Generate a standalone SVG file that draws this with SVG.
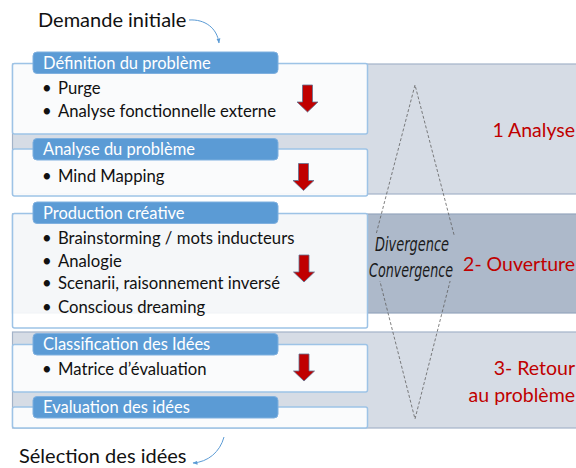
<svg xmlns="http://www.w3.org/2000/svg" width="576" height="468" viewBox="0 0 576 468">
  <style>
    .band1 { fill: #d6dce5; stroke: #a3b3c8; stroke-width: 1.2; }
    .band2 { fill: #adb9ca; stroke: #95a6bd; stroke-width: 1.2; }
    .box { fill: #ffffff; fill-opacity: 0.88; stroke: #9dc3e6; stroke-width: 1.5; }
    .hdr { fill: #5b9bd5; stroke: #7fb0df; stroke-width: 1; }
    .hdrt { font-family: Lato, "Liberation Sans", sans-serif; font-size: 16.5px; fill: #ffffff; }
    .txt { font-family: Lato, "Liberation Sans", sans-serif; font-size: 16.7px; fill: #111111; }
    .big { font-family: Lato, "Liberation Sans", sans-serif; font-size: 20px; fill: #111111; }
    .red { font-family: Lato, "Liberation Sans", sans-serif; font-size: 19.5px; fill: #c00000; text-anchor: end; }
    .dv { font-family: "DejaVu Sans Condensed", "DejaVu Sans", sans-serif; font-stretch: condensed; font-style: italic; font-size: 15px; fill: #1a1a1a; text-anchor: middle; }
    .conn { fill: none; stroke: #5b9bd5; stroke-width: 1; }
    .diamond { fill: none; stroke: #606060; stroke-width: 0.8; stroke-dasharray: 3 2; }
    .rarrow { fill: #c00000; stroke: #5f7393; stroke-width: 0.8; }
  </style>
  <defs>
    <marker id="ah" viewBox="0 0 10 10" refX="9" refY="5" markerWidth="5" markerHeight="5" orient="auto">
      <path d="M0,1 L10,5 L0,9 Z" fill="#5b9bd5"/>
    </marker>
    <path id="redArrow" d="M-5,0 H5 V17 H10.5 L0,27 L-10.5,17 H-5 Z"/>
  </defs>

  <g id="bands">
    <rect class="band1" x="12.5" y="64" width="580" height="130"/>
    <rect class="band2" x="12.5" y="214" width="580" height="99"/>
    <rect class="band1" x="12.5" y="332" width="580" height="96"/>
  </g>

  <g id="diagonal-diamond">
    <polygon class="diamond" points="415,85 372,250 415,419 458,250"/>
    <rect x="366" y="235" width="96" height="46" fill="#adb9ca"/>
    <g transform="translate(412,251) scale(1,1.25)">
      <text class="dv" x="0" y="0" textLength="74" lengthAdjust="spacingAndGlyphs">Divergence</text>
    </g>
    <g transform="translate(411,277) scale(1,1.25)">
      <text class="dv" x="0" y="0" textLength="84" lengthAdjust="spacingAndGlyphs">Convergence</text>
    </g>
  </g>

  <g id="phase-labels">
    <text class="red" x="575" y="137">1 Analyse</text>
    <text class="red" x="575" y="271">2- Ouverture</text>
    <text class="red" x="575" y="375">3- Retour</text>
    <text class="red" x="575" y="402">au problème</text>
  </g>

  <g id="node-definition">
    <rect class="box" x="12.5" y="63.5" width="355" height="70.5" rx="2"/>
    <rect class="hdr" x="33" y="52" width="245" height="21.5" rx="4"/>
    <text class="hdrt" x="43" y="69">Définition du problème</text>
    <text class="txt" x="42" y="94">•</text>
    <text class="txt" x="58" y="94">Purge</text>
    <text class="txt" x="42" y="117">•</text>
    <text class="txt" x="58" y="117">Analyse fonctionnelle externe</text>
  </g>

  <g id="node-analyse">
    <rect class="box" x="12.5" y="149" width="355" height="47" rx="2"/>
    <rect class="hdr" x="33" y="138.5" width="245" height="21.5" rx="4"/>
    <text class="hdrt" x="43" y="155">Analyse du problème</text>
    <text class="txt" x="42" y="181.5">•</text>
    <text class="txt" x="58" y="181.5">Mind Mapping</text>
  </g>

  <g id="node-production">
    <rect class="box" x="12.5" y="213.5" width="355" height="114.5" rx="2"/>
    <rect class="hdr" x="33" y="202" width="245" height="21.5" rx="4"/>
    <text class="hdrt" x="43" y="218.5">Production créative</text>
    <text class="txt" x="42" y="244">•</text>
    <text class="txt" x="58" y="244">Brainstorming / mots inducteurs</text>
    <text class="txt" x="42" y="266.5">•</text>
    <text class="txt" x="58" y="266.5">Analogie</text>
    <text class="txt" x="42" y="289">•</text>
    <text class="txt" x="58" y="289">Scenarii, raisonnement inversé</text>
    <text class="txt" x="42" y="312.5">•</text>
    <text class="txt" x="58" y="312.5">Conscious dreaming</text>
  </g>

  <g id="node-classification">
    <rect class="box" x="12.5" y="344.5" width="355" height="47.5" rx="2"/>
    <rect class="hdr" x="33" y="333.5" width="245" height="21.5" rx="4"/>
    <text class="hdrt" x="43" y="350">Classification des Idées</text>
    <text class="txt" x="42" y="375">•</text>
    <text class="txt" x="58" y="375">Matrice d’évaluation</text>
  </g>

  <g id="node-evaluation">
    <rect class="box" x="12.5" y="407" width="355" height="21" rx="2"/>
    <rect class="hdr" x="33" y="396.5" width="245" height="21.5" rx="4"/>
    <text class="hdrt" x="43" y="413">Evaluation des idées</text>
  </g>

  <g id="red-arrows">
    <use href="#redArrow" class="rarrow" transform="translate(307.5,85)"/>
    <use href="#redArrow" class="rarrow" transform="translate(303.5,163.5)"/>
    <use href="#redArrow" class="rarrow" transform="translate(304,255)"/>
    <use href="#redArrow" class="rarrow" transform="translate(304,354)"/>
  </g>

  <g id="node-start">
    <text class="big" x="38" y="27">Demande initiale</text>
  </g>
  <g id="node-end">
    <text class="big" x="19" y="463">Sélection des idées</text>
  </g>

  <g id="connectors">
    <path class="conn" d="M189,20 C205,19 217,28 219,43" marker-end="url(#ah)"/>
    <path class="conn" d="M224,437 C220,452 208,462 193,463" marker-end="url(#ah)"/>
  </g>
</svg>
